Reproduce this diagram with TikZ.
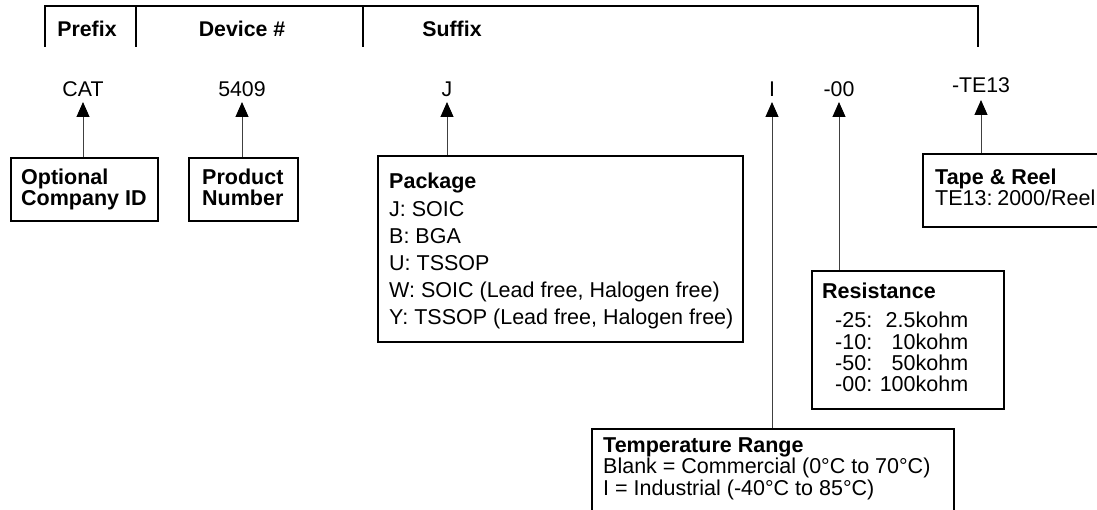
\documentclass[tikz,border=0pt]{standalone}
\usepackage{fontspec}
\setmainfont{Liberation Sans}
\usetikzlibrary{arrows.meta}
\tikzset{
  lbl/.style={inner sep=0, anchor=base, font=\bfseries\fontsize{21.3}{21}\selectfont},
  code/.style={inner sep=0, anchor=base, font=\fontsize{21.3}{21}\selectfont},
  txt/.style={inner sep=0, anchor=base west, font=\fontsize{21.5}{#1}\selectfont},
  txt/.default=21,
  box/.style={draw, line width=1.8pt, inner sep=0, anchor=north west},
  conn/.style={line width=1pt, draw=black!75, -{Triangle[length=15pt,width=13pt,color=black]}},
  bracket/.style={line width=2.5pt}
}
\begin{document}
\begin{tikzpicture}[x=1pt,y=-1pt]
\useasboundingbox (0,0) rectangle (1097,510);
\clip (0,0) rectangle (1097,510);
% top bracket
\draw[bracket] (45,47) -- (45,6) -- (978,6) -- (978,47);
\draw[bracket] (136,6) -- (136,47);
\draw[bracket] (363,6) -- (363,47);
\node[lbl] (prefix) at (87,37) {Prefix};
\node[lbl] (device) at (242,37) {Device \#};
\node[lbl] (suffix) at (452,37) {Suffix};
% codes
\node[code] (cat) at (83,97) {CAT};
\node[code] (num) at (242,97) {5409};
\node[code] (pkg) at (447,97) {J};
\node[code] (temp) at (772,97) {I};
\node[code] (res) at (839,97) {-00};
\node[code] (tape) at (981,93) {-TE13};
\coordinate (tipy) at (0,102);
\coordinate (tipz) at (0,100);
% boxes
\node[box, minimum width=147pt, minimum height=63pt] (optbox) at (10,157) {};
\node[box, minimum width=109pt, minimum height=63pt] (prodbox) at (188,157) {};
\node[box, minimum width=365pt, minimum height=186pt] (pkgbox) at (377,155) {};
\node[box, minimum width=190pt, minimum height=73pt] (tapebox) at (922,153) {};
\node[box, minimum width=192pt, minimum height=138pt] (resbox) at (811,270) {};
\node[box, minimum width=362pt, minimum height=100pt] (tempbox) at (591,428) {};
% connectors
\draw[conn] (optbox.north -| cat) -- (cat |- tipy);
\draw[conn] (prodbox.north -| num) -- (num |- tipy);
\draw[conn] (pkgbox.north -| pkg) -- (pkg |- tipy);
\draw[conn] (tempbox.north -| temp) -- (temp |- tipy);
\draw[conn] (resbox.north -| res) -- (res |- tipy);
\draw[conn] (tapebox.north -| tape) -- (tape |- tipz);
% box texts
\node[txt] (opttxt) at (21,185) {\bfseries\vtop{\hbox{Optional}\hbox{Company ID}}};
\node[txt] (prodtxt) at (202,185) {\bfseries\vtop{\hbox{Product}\hbox{Number}}};
\node[txt=27.2] (pkgtxt) at (389,189) {\vtop{\hbox{\bfseries Package}\hbox{J: SOIC}\hbox{B: BGA}\hbox{U: TSSOP}\hbox{W: SOIC (Lead free, Halogen free)}\hbox{Y: TSSOP (Lead free, Halogen free)}}};
\node[txt] (restitle) at (822,299) {\bfseries Resistance};
\node[txt=21.3] (restxt) at (835,328) {\vtop{\hbox to 133pt{-25:\hfill 2.5kohm}\hbox to 133pt{-10:\hfill 10kohm}\hbox to 133pt{-50:\hfill 50kohm}\hbox to 133pt{-00:\hfill 100kohm}}};
\node[txt=21.5] (temptxt) at (603,452) {\vtop{\hbox{\bfseries Temperature Range}\hbox{Blank = Commercial (0°C to 70°C)}\hbox{I = Industrial (-40°C to 85°C)}}};
\node[txt] (tapetxt) at (935,185) {\vtop{\hbox{\bfseries Tape \& Reel}\hbox{TE13:\kern0.22em 2000/Reel}}};
\end{tikzpicture}
\end{document}
